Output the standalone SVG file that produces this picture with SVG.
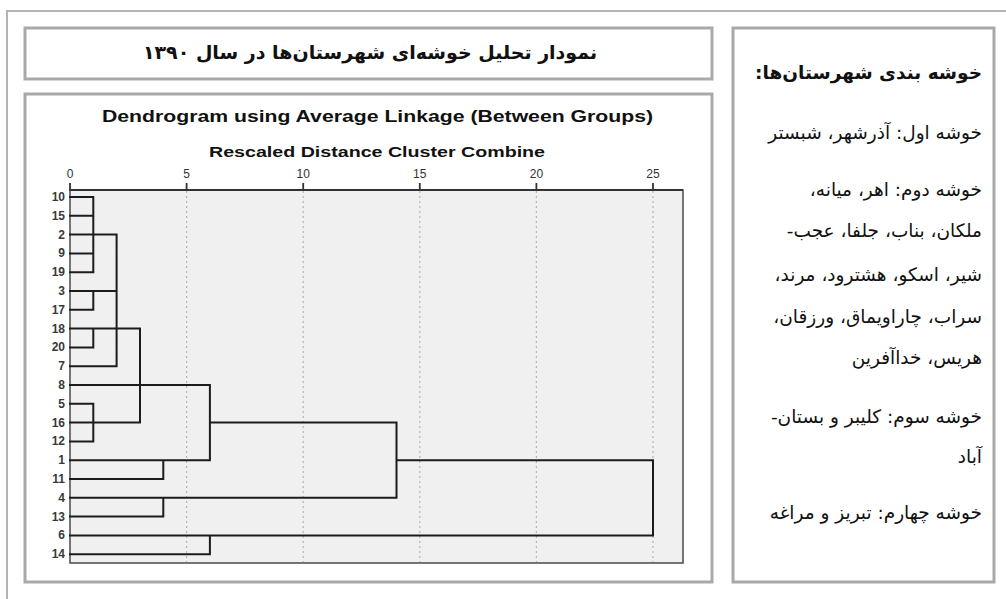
<svg xmlns="http://www.w3.org/2000/svg" width="1006" height="599" viewBox="0 0 1006 599">
<style>
.box{fill:#fff;stroke:#a9a9a9;stroke-width:3}
.fa{font-family:"DejaVu Sans",sans-serif;fill:#111;direction:rtl}
.fl{font-size:18.5px;text-anchor:start}
.en{font-family:"Liberation Sans",Arial,sans-serif;fill:#111;font-weight:bold;text-anchor:middle}
.ax{font-family:"Liberation Sans",Arial,sans-serif;font-size:12px;fill:#333;text-anchor:middle}
.leaf{font-family:"Liberation Sans",Arial,sans-serif;font-size:12px;font-weight:bold;fill:#3a3a3a;text-anchor:end}
.grid{stroke:#b5b5b5;stroke-width:1.2;stroke-dasharray:2 3;fill:none}
.tree{stroke:#1c1c1c;stroke-width:2;fill:none;stroke-linecap:square}
</style>
<rect width="1006" height="599" fill="#fff"/>
<path id="outer-frame" d="M7,599 V11 H1006" fill="none" stroke="#b4b4b4" stroke-width="2"/>

<g id="title-box">
<rect class="box" x="25" y="28" width="687" height="51"/>
<text class="fa" x="370" y="59" font-size="19" font-weight="bold" text-anchor="middle">نمودار تحلیل خوشه‌ای شهرستان‌ها در سال ۱۳۹۰</text>
</g>

<g id="dendrogram-panel">
<rect class="box" x="25" y="94" width="687" height="488"/>
<text class="en" x="377.5" y="122" font-size="16" textLength="551" lengthAdjust="spacingAndGlyphs">Dendrogram using Average Linkage (Between Groups)</text>
<text class="en" x="377" y="157" font-size="14" textLength="336" lengthAdjust="spacingAndGlyphs">Rescaled Distance Cluster Combine</text>
<rect x="70" y="190" width="613" height="373" fill="#f0f0f0" stroke="#4a4a4a" stroke-width="1.5"/>
<g id="grid">
<line class="grid" x1="186.6" y1="191" x2="186.6" y2="562"/>
<line class="grid" x1="303.2" y1="191" x2="303.2" y2="562"/>
<line class="grid" x1="419.8" y1="191" x2="419.8" y2="562"/>
<line class="grid" x1="536.4" y1="191" x2="536.4" y2="562"/>
<line class="grid" x1="653" y1="191" x2="653" y2="562"/>
</g>
<g id="axis">
<line x1="70" y1="190" x2="683" y2="190" stroke="#333" stroke-width="1.8"/>
<path d="M70,183V191 M186.6,183V191 M303.2,183V191 M419.8,183V191 M536.4,183V191 M653,183V191" stroke="#333" stroke-width="1.8"/>
<text class="ax" x="70" y="178">0</text>
<text class="ax" x="186.6" y="178">5</text>
<text class="ax" x="303.2" y="178">10</text>
<text class="ax" x="419.8" y="178">15</text>
<text class="ax" x="536.4" y="178">20</text>
<text class="ax" x="653" y="178">25</text>
</g>
<g id="leaves">
<text class="leaf" x="65" y="201">10</text>
<text class="leaf" x="65" y="219.8">15</text>
<text class="leaf" x="65" y="238.6">2</text>
<text class="leaf" x="65" y="257.4">9</text>
<text class="leaf" x="65" y="276.2">19</text>
<text class="leaf" x="65" y="295">3</text>
<text class="leaf" x="65" y="313.8">17</text>
<text class="leaf" x="65" y="332.6">18</text>
<text class="leaf" x="65" y="351.4">20</text>
<text class="leaf" x="65" y="370.2">7</text>
<text class="leaf" x="65" y="389">8</text>
<text class="leaf" x="65" y="407.8">5</text>
<text class="leaf" x="65" y="426.6">16</text>
<text class="leaf" x="65" y="445.4">12</text>
<text class="leaf" x="65" y="464.2">1</text>
<text class="leaf" x="65" y="483">11</text>
<text class="leaf" x="65" y="501.8">4</text>
<text class="leaf" x="65" y="520.6">13</text>
<text class="leaf" x="65" y="539.4">6</text>
<text class="leaf" x="65" y="558.2">14</text>
</g>
<g id="connectors">
<path class="tree" d="M70,197H93.3 M70,215.8H93.3 M70,234.6H116.6 M70,253.4H93.3 M70,272.2H93.3 M93.3,197V272.2
M70,291H116.6 M70,309.8H93.3 M93.3,291V309.8
M70,328.6H140 M70,347.4H93.3 M93.3,328.6V347.4
M70,366.2H116.6 M116.6,234.6V366.2
M70,385H209.9
M70,403.8H93.3 M70,422.6H140 M70,441.4H93.3 M93.3,403.8V441.4
M140,328.6V422.6
M70,460.2H209.9 M70,479H163.3 M163.3,460.2V479
M209.9,385V460.2
M209.9,422.6H396.5
M70,497.8H396.5 M70,516.6H163.3 M163.3,497.8V516.6
M396.5,422.6V497.8
M396.5,460.2H653
M70,535.4H653 M70,554.2H209.9 M209.9,535.4V554.2
M653,460.2V535.4"/>
</g>
</g>

<g id="legend-panel">
<rect class="box" x="733" y="28" width="261" height="554"/>
<text class="fa fl" x="982" y="79" font-weight="bold">خوشه بندی شهرستان‌ها:</text>
<text class="fa fl" x="982" y="139">خوشه اول: آذرشهر، شبستر</text>
<text class="fa fl" x="982" y="196">خوشه دوم: اهر، میانه،</text>
<text class="fa fl" x="982" y="237">ملکان، بناب، جلفا، عجب-</text>
<text class="fa fl" x="982" y="281">شیر، اسکو، هشترود، مرند،</text>
<text class="fa fl" x="982" y="323">سراب، چاراویماق، ورزقان،</text>
<text class="fa fl" x="982" y="364">هریس، خداآفرین</text>
<text class="fa fl" x="982" y="423">خوشه سوم: کلیبر و بستان-</text>
<text class="fa fl" x="982" y="463">آباد</text>
<text class="fa fl" x="982" y="519">خوشه چهارم: تبریز و مراغه</text>
</g>
</svg>
